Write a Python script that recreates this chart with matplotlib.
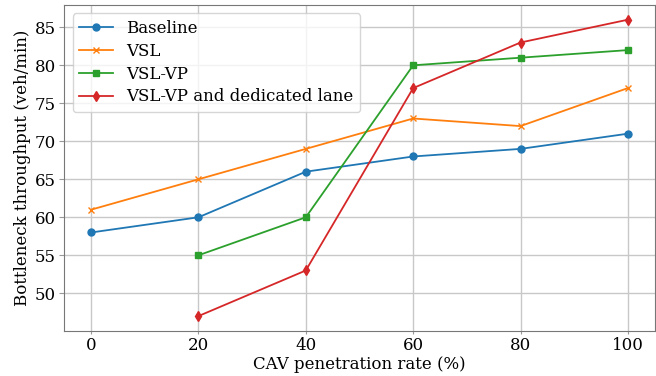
import matplotlib
matplotlib.use("Agg")
import matplotlib.pyplot as plt

rates = [0, 20, 40, 60, 80, 100]
baseline = [58, 60, 66, 68, 69, 71]
vsl = [61, 65, 69, 73, 72, 77]
vslvp_x = [20, 40, 60, 80, 100]
vslvp = [55, 60, 80, 81, 82]
dedicated_x = [20, 40, 60, 80, 100]
dedicated = [47, 53, 77, 83, 86]

plt.rcParams['font.family'] = 'DejaVu Serif'
plt.rcParams['font.size'] = 12

fig, ax = plt.subplots(figsize=(6.56, 3.76), dpi=100)
fig.subplots_adjust(left=0.098, right=0.998, top=0.987, bottom=0.12)

lw = 1.3
ax.plot(rates, baseline, marker='o', markersize=5, lw=lw, label='Baseline', color='#1f77b4')
ax.plot(rates, vsl, marker='x', markersize=5, lw=lw, label='VSL', color='#ff7f0e')
ax.plot(vslvp_x, vslvp, marker='s', markersize=5, lw=lw, label='VSL-VP', color='#2ca02c')
ax.plot(dedicated_x, dedicated, marker='d', markersize=5, lw=lw, label='VSL-VP and dedicated lane', color='#d62728')

ax.grid(True, color='#c8c8c8', linewidth=1)
ax.set_axisbelow(True)
for s in ax.spines.values():
    s.set_color('#777777')
ax.tick_params(axis='both', color='#999999', pad=2.5)
ax.tick_params(axis='x', length=2)
ax.set_xlabel('CAV penetration rate (%)', labelpad=1)
ax.set_ylabel('Bottleneck throughput (veh/min)', labelpad=3)
ax.set_xticks(rates)
ax.legend(loc='upper left', labelspacing=0.35)

fig.savefig('out.png', dpi=100)
